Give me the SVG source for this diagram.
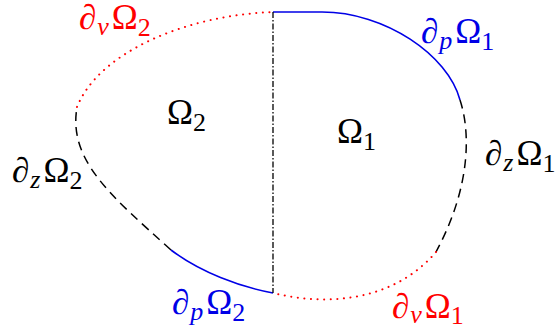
<svg xmlns="http://www.w3.org/2000/svg" width="560" height="329" viewBox="0 0 560 329">
<style>
.bg{fill:#ffffff}
.solid{fill:none;stroke:#0000e6;stroke-width:1.6}
.dash{fill:none;stroke:#000;stroke-width:1.5;stroke-dasharray:9 6}
.dot{fill:none;stroke:#ff0000;stroke-width:2;stroke-dasharray:0.1 6.5;stroke-linecap:round}
.dashdot{fill:none;stroke:#000;stroke-width:1.3;stroke-dasharray:6 2 1.5 2}
.lbl{font-family:'Liberation Serif','Times New Roman',serif;font-size:35px}
.it{font-style:italic}
.sub{font-size:26px}
.red{fill:#ff0000}
.blue{fill:#0000e6}
.black{fill:#000}
</style>
<rect class="bg" x="0" y="0" width="560" height="329"/>
<g id="boundary">
  <path id="dp1" class="solid" d="M273,12 L322,12 C385,12 448,55 460,100"/>
  <path id="dz1" class="dash" d="M460,100 C470,130 472,185 436,252"/>
  <path id="dv1" class="dot" d="M436,252 C395,300 330,307 273,293"/>
  <path id="dp2" class="solid" d="M273,293 C240,287 200,272 171,250"/>
  <path id="dz2" class="dash" d="M171,250 C110,195 68,160 77,107"/>
  <path id="dv2" class="dot" d="M77,107 C100,50 190,15 273,12"/>
  <path id="interface" class="dashdot" d="M273,12 L273,293"/>
</g>
<g id="omega2"><text class="lbl black" x="167" y="124">Ω<tspan class="sub" dy="7">2</tspan></text></g>
<g id="omega1"><text class="lbl black" x="337" y="143">Ω<tspan class="sub" dy="7">1</tspan></text></g>
<g id="label-dv2"><text class="lbl red" x="79" y="29"><tspan class="it">∂</tspan><tspan class="sub it" dx="1" dy="6">v</tspan><tspan dx="3" dy="-6">Ω</tspan><tspan class="sub" dy="7">2</tspan></text></g>
<g id="label-dp1"><text class="lbl blue" x="421" y="43"><tspan class="it">∂</tspan><tspan class="sub it" dx="1" dy="6">p</tspan><tspan dx="3" dy="-6">Ω</tspan><tspan class="sub" dy="7">1</tspan></text></g>
<g id="label-dz1"><text class="lbl black" x="485" y="165"><tspan class="it">∂</tspan><tspan class="sub it" dx="1" dy="6">z</tspan><tspan dx="3" dy="-6">Ω</tspan><tspan class="sub" dy="7">1</tspan></text></g>
<g id="label-dz2"><text class="lbl black" x="12" y="182"><tspan class="it">∂</tspan><tspan class="sub it" dx="1" dy="6">z</tspan><tspan dx="3" dy="-6">Ω</tspan><tspan class="sub" dy="7">2</tspan></text></g>
<g id="label-dp2"><text class="lbl blue" x="172" y="314"><tspan class="it">∂</tspan><tspan class="sub it" dx="1" dy="6">p</tspan><tspan dx="3" dy="-6">Ω</tspan><tspan class="sub" dy="7">2</tspan></text></g>
<g id="label-dv1"><text class="lbl red" x="392" y="318"><tspan class="it">∂</tspan><tspan class="sub it" dx="1" dy="5">v</tspan><tspan dx="3" dy="-5">Ω</tspan><tspan class="sub" dy="6">1</tspan></text></g>
</svg>
